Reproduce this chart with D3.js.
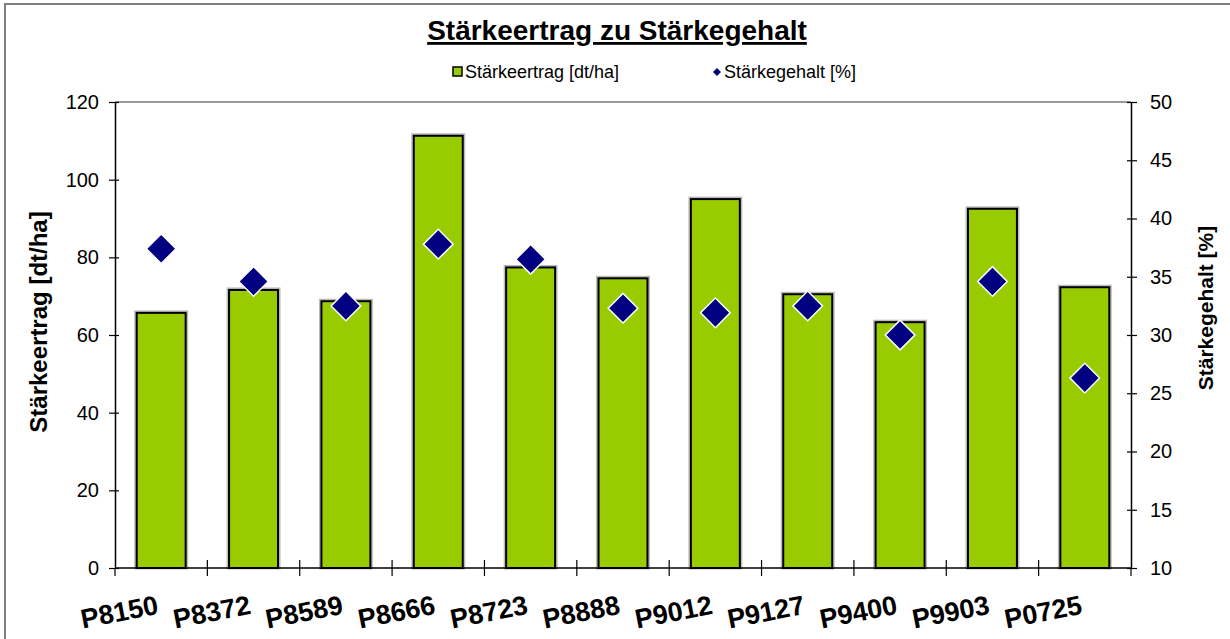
<!DOCTYPE html>
<html>
<head>
<meta charset="utf-8">
<script src="https://cdn.jsdelivr.net/npm/d3@7"></script>
<style>
  body { margin: 0; background: #fff; }
  text { font-family: Arial, "Liberation Sans", sans-serif; }
</style>
</head>
<body>
<div class="container"></div>
<script>
let sorten = ["P8150", "P8372", "P8589", "P8666", "P8723", "P8888", "P9012", "P9127", "P9400", "P9903", "P0725"];
let ertrag = [65.7, 71.6, 68.7, 111.3, 77.4, 74.6, 95.0, 70.5, 63.3, 92.5, 72.3];
let gehalt = [37.4, 34.6, 32.5, 37.8, 36.5, 32.3, 31.9, 32.5, 30.0, 34.6, 26.3];
let leftTicks = [0, 20, 40, 60, 80, 100, 120];
let rightTicks = [10, 15, 20, 25, 30, 35, 40, 45, 50];

let width = 1230, height = 639;
let plot = {left: 115, right: 1131, top: 102, bottom: 568};

let svg = d3.select(".container").append("svg")
    .attr("width", width)
    .attr("height", height);

// outer frame
svg.append("rect")
    .attr("x", 5).attr("y", 4)
    .attr("width", 1300).attr("height", 700)
    .style("fill", "none")
    .style("stroke", "#7f7f7f")
    .style("stroke-width", 2);

let x = d3.scaleBand()
    .domain(sorten)
    .range([plot.left, plot.right])
    .paddingInner(0.47)
    .paddingOuter(0.235);

let y = d3.scaleLinear().domain([0, 120]).range([plot.bottom, plot.top]);
let y2 = d3.scaleLinear().domain([10, 50]).range([plot.bottom, plot.top]);

// top border of plot area
svg.append("line")
    .attr("x1", plot.left).attr("x2", plot.right)
    .attr("y1", plot.top).attr("y2", plot.top)
    .style("stroke", "#999")
    .style("stroke-width", 2);

// bars (with a soft grey shadow edge)
svg.append("g").selectAll("rect.shadow")
  .data(ertrag)
  .enter().append("rect")
    .attr("x", (d, i) => x(sorten[i]) - 1)
    .attr("y", d => y(d) - 1)
    .attr("width", x.bandwidth() + 2)
    .attr("height", d => y(0) - y(d) + 1)
    .style("fill", "none")
    .style("stroke", "#bbb")
    .style("stroke-width", 3);

svg.append("g").selectAll("rect.bar")
  .data(ertrag)
  .enter().append("rect")
    .attr("x", (d, i) => x(sorten[i]))
    .attr("y", d => y(d))
    .attr("width", x.bandwidth())
    .attr("height", d => y(0) - y(d))
    .style("fill", "#99cc00")
    .style("stroke", "#000")
    .style("stroke-width", 2);

// axes
let leftAxis = svg.append("g")
    .attr("transform", "translate(" + plot.left + ",0)")
    .call(d3.axisLeft(y).tickValues(leftTicks).tickSizeInner(6).tickSizeOuter(0).tickPadding(10));
let rightAxis = svg.append("g")
    .attr("transform", "translate(" + plot.right + ",0)")
    .call(d3.axisRight(y2).tickValues(rightTicks).tickSizeInner(6).tickSizeOuter(0).tickPadding(13));

[leftAxis, rightAxis].forEach(a => {
  a.select(".domain").style("stroke", "#000").style("stroke-width", 1.5);
  a.selectAll(".tick line").style("stroke", "#000").style("stroke-width", 1.2);
  a.selectAll(".tick text").style("font-size", "20px").style("fill", "#000")
    .attr("font-family", "Arial, 'Liberation Sans', sans-serif");
});
// ticks cross the axis line
leftAxis.selectAll(".tick line").attr("x1", 4);
rightAxis.selectAll(".tick line").attr("x1", -4);

// x axis line and category boundary ticks
svg.append("line")
    .attr("x1", plot.left).attr("x2", plot.right)
    .attr("y1", plot.bottom).attr("y2", plot.bottom)
    .style("stroke", "#000")
    .style("stroke-width", 1.5);

let bounds = d3.range(sorten.length + 1).map(i => plot.left + i * x.step());
svg.append("g").selectAll("line")
  .data(bounds)
  .enter().append("line")
    .attr("x1", d => d).attr("x2", d => d)
    .attr("y1", (d, i) => (i == 0 || i == sorten.length) ? plot.bottom : plot.bottom - 8)
    .attr("y2", plot.bottom + 8)
    .style("stroke", "#000")
    .style("stroke-width", 1.2);

// x labels, tilted
svg.append("g").selectAll("text")
  .data(sorten)
  .enter().append("text")
    .text(d => d)
    .attr("text-anchor", "middle")
    .attr("transform", d => "translate(" + (x(d) + x.bandwidth() / 2 - 40) + ",621) rotate(-11)")
    .style("font-size", "27px")
    .style("font-weight", "bold");

// diamonds
let diamond = d3.symbol().type(d3.symbolSquare).size(440);
svg.append("g").selectAll("path")
  .data(gehalt)
  .enter().append("path")
    .attr("d", diamond)
    .attr("transform", (d, i) => "translate(" + (x(sorten[i]) + x.bandwidth() / 2) + "," + y2(d) + ") rotate(45)")
    .style("fill", "#000080")
    .style("stroke", "#fff")
    .style("stroke-width", 1.5);

// title
svg.append("text")
    .text("Stärkeertrag zu Stärkegehalt")
    .attr("text-anchor", "middle")
    .attr("x", 617).attr("y", 40)
    .style("font-size", "28px")
    .style("font-weight", "bold")
    .style("text-decoration", "underline");

// legend
let legend = svg.append("g");
legend.append("rect")
    .attr("x", 453).attr("y", 67)
    .attr("width", 9).attr("height", 9)
    .style("fill", "#99cc00")
    .style("stroke", "#000")
    .style("stroke-width", 1.5);
legend.append("text")
    .text("Stärkeertrag [dt/ha]")
    .attr("x", 465).attr("y", 78)
    .style("font-size", "18px");
legend.append("path")
    .attr("d", d3.symbol().type(d3.symbolSquare).size(32))
    .attr("transform", "translate(717,72) rotate(45)")
    .style("fill", "#000080");
legend.append("text")
    .text("Stärkegehalt [%]")
    .attr("x", 724).attr("y", 78)
    .style("font-size", "18px");

// axis titles
svg.append("text")
    .text("Stärkeertrag [dt/ha]")
    .attr("text-anchor", "middle")
    .attr("transform", "translate(47,322) rotate(-90)")
    .style("font-size", "24px")
    .style("font-weight", "bold");
svg.append("text")
    .text("Stärkegehalt [%]")
    .attr("text-anchor", "middle")
    .attr("transform", "translate(1213,308) rotate(-90)")
    .style("font-size", "21px")
    .style("font-weight", "bold");
</script>
</body>
</html>
